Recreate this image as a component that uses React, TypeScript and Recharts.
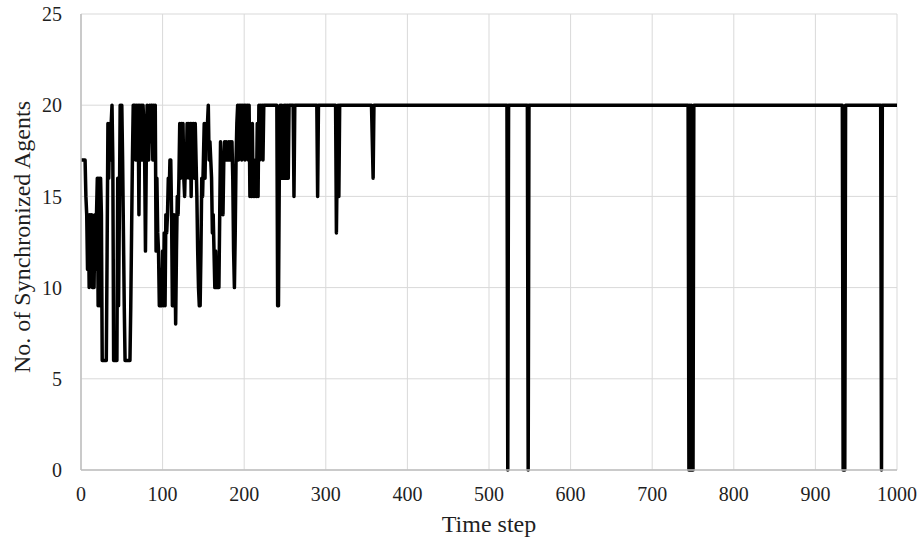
import React from 'react';
import { LineChart, Line, XAxis, YAxis, CartesianGrid, Label } from 'recharts';

const timeSteps = [
  0, 5, 6, 7, 8, 9, 10, 11, 12, 13, 14, 15, 16, 17, 18, 19, 20, 21, 22, 23, 24, 25, 26, 31, 32, 33, 34, 35, 36, 37, 38, 39, 40, 44, 45, 46, 47, 48, 49, 50, 51, 52, 53, 54, 60, 61, 62, 63,
  64, 66, 67, 68, 69, 70, 71, 72, 73, 74, 75, 76, 77, 78, 79, 80, 81, 82, 83, 84, 85, 86,
  87, 88, 89, 90, 91, 92, 93, 94, 95, 96, 97, 98, 99, 100, 101, 102, 103, 104, 105, 106, 107, 108, 109, 110,
  111, 112, 113, 114, 115, 116, 117, 118, 119, 120, 121, 122, 123, 124, 125, 126, 127, 128, 129, 130,
  131, 132, 133, 134, 135, 136, 137, 138, 139, 140, 141, 142, 143, 144, 145, 146, 147, 148, 149, 150,
  151, 152, 153, 154, 155, 156, 157, 158, 159, 160, 161, 162, 163, 164, 165, 166, 167, 168, 169, 170,
  171, 172, 173, 174, 175, 176, 177, 178, 179, 180, 181, 182, 183, 184, 185, 186, 187, 188, 189, 190,
  191, 192, 193, 194, 195, 196, 197, 198, 199, 200, 201, 202, 203, 204, 205, 206, 207, 208, 209, 210,
  211, 212, 213, 214, 215, 216, 217, 218, 219, 220, 221, 222, 223, 224, 240, 241, 242, 243, 244, 245,
  246, 247, 248, 249, 250, 251, 252, 253, 254, 255, 260, 261, 262, 289, 290, 291, 312, 313, 314, 315,
  316, 317, 356, 357, 358, 359, 522, 523, 524, 547, 548, 549, 744, 745, 746, 747, 748, 749, 750, 751,
  933, 934, 936, 937, 980, 981, 982, 1000,
];

const syncedAgents = [
  17, 17, 15, 14, 11, 14, 10, 14, 11, 14, 10, 13, 10, 14, 11, 14, 16, 9, 16, 9, 16, 14, 6, 6, 12, 19, 16, 19, 17, 19, 20, 17, 6, 6, 16, 9, 14, 20, 17, 20, 17, 13, 9, 6, 6, 9, 13, 17,
  20, 20, 17, 20, 17, 20, 14, 20, 17, 20, 17, 20, 19, 17, 12, 17, 20, 19, 17, 20, 18, 20,
  20, 17, 20, 19, 20, 12, 16, 13, 12, 9, 9, 11, 9, 12, 9, 13, 9, 14, 13, 14, 16, 15, 17, 17,
  14, 9, 9, 14, 12, 8, 12, 15, 14, 16, 19, 16, 19, 17, 19, 16, 15, 17, 16, 19,
  17, 19, 16, 19, 15, 19, 17, 19, 16, 19, 17, 15, 12, 10, 9, 9, 12, 16, 15, 17,
  19, 16, 19, 18, 19, 20, 17, 18, 17, 16, 13, 14, 12, 10, 12, 10, 11, 10, 10, 14,
  18, 15, 16, 14, 17, 18, 17, 18, 17, 17, 18, 17, 18, 17, 18, 16, 12, 10, 13, 17,
  19, 20, 17, 20, 19, 20, 17, 20, 19, 20, 17, 20, 19, 20, 17, 20, 15, 17, 15, 19,
  15, 17, 15, 16, 15, 19, 15, 20, 17, 20, 19, 20, 17, 20, 20, 9, 9, 16, 20, 16,
  20, 18, 16, 20, 16, 20, 16, 20, 16, 20, 20, 15, 20, 20, 15, 20, 20, 13, 17, 20,
  15, 20, 20, 18, 16, 20, 20, 0, 20, 20, 0, 20, 20, 0, 20, 0, 20, 0, 0, 20,
  20, 0, 0, 20, 20, 0, 20, 20,
];

const xTicks = [0, 100, 200, 300, 400, 500, 600, 700, 800, 900, 1000];
const yTicks = [0, 5, 10, 15, 20, 25];

const xTitle = 'Time step';
const yTitle = 'No. of Synchronized Agents';

const data = timeSteps.map((t, i) => ({ t, v: syncedAgents[i] }));

const FONT = '"Liberation Serif", "Times New Roman", serif';
const TEXT = '#1f1f1f';

const YTitle = (props: any) => {
  const vb = props.viewBox || { x: 0, y: 0, width: 0, height: 0 };
  const cy = vb.y + vb.height / 2 - 5;
  const cx = 22;
  return (
    <text
      x={cx}
      y={cy}
      transform={`rotate(-90, ${cx}, ${cy})`}
      textAnchor="middle"
      dominantBaseline="central"
      fontFamily={FONT}
      fontSize={24}
      fill={TEXT}
    >
      {yTitle}
    </text>
  );
};

const XTitle = (props: any) => {
  const vb = props.viewBox || { x: 0, y: 0, width: 0, height: 0 };
  const cx = vb.x + vb.width / 2;
  return (
    <text x={cx} y={532} textAnchor="middle" fontFamily={FONT} fontSize={24} fill={TEXT}>
      {xTitle}
    </text>
  );
};

export default function App() {
  return (
    <div style={{ position: 'absolute', left: 0, top: 0, width: 922, height: 546, background: '#fff' }}>
      <LineChart width={922} height={546} data={data} margin={{ top: 14, right: 25, bottom: 0, left: 0 }}>
        <CartesianGrid stroke="#d9d9d9" strokeWidth={1} />
        <XAxis
          dataKey="t"
          type="number"
          domain={[0, 1000]}
          ticks={xTicks}
          interval={0}
          height={76}
          tickLine={false}
          tickMargin={11}
          axisLine={{ stroke: '#bfbfbf', strokeWidth: 1.5 }}
          tick={{ fontFamily: FONT, fontSize: 20, fill: TEXT }}
        >
          <Label content={XTitle} />
        </XAxis>
        <YAxis
          type="number"
          domain={[0, 25]}
          ticks={yTicks}
          interval={0}
          width={81}
          tickLine={false}
          tickMargin={13}
          axisLine={{ stroke: '#bfbfbf', strokeWidth: 1.5 }}
          tick={{ fontFamily: FONT, fontSize: 20, fill: TEXT }}
        >
          <Label content={YTitle} />
        </YAxis>
        <Line
          dataKey="v"
          type="linear"
          stroke="#000"
          strokeWidth={3.5}
          strokeLinejoin="round"
          dot={false}
          activeDot={false}
          isAnimationActive={false}
        />
      </LineChart>
    </div>
  );
}
